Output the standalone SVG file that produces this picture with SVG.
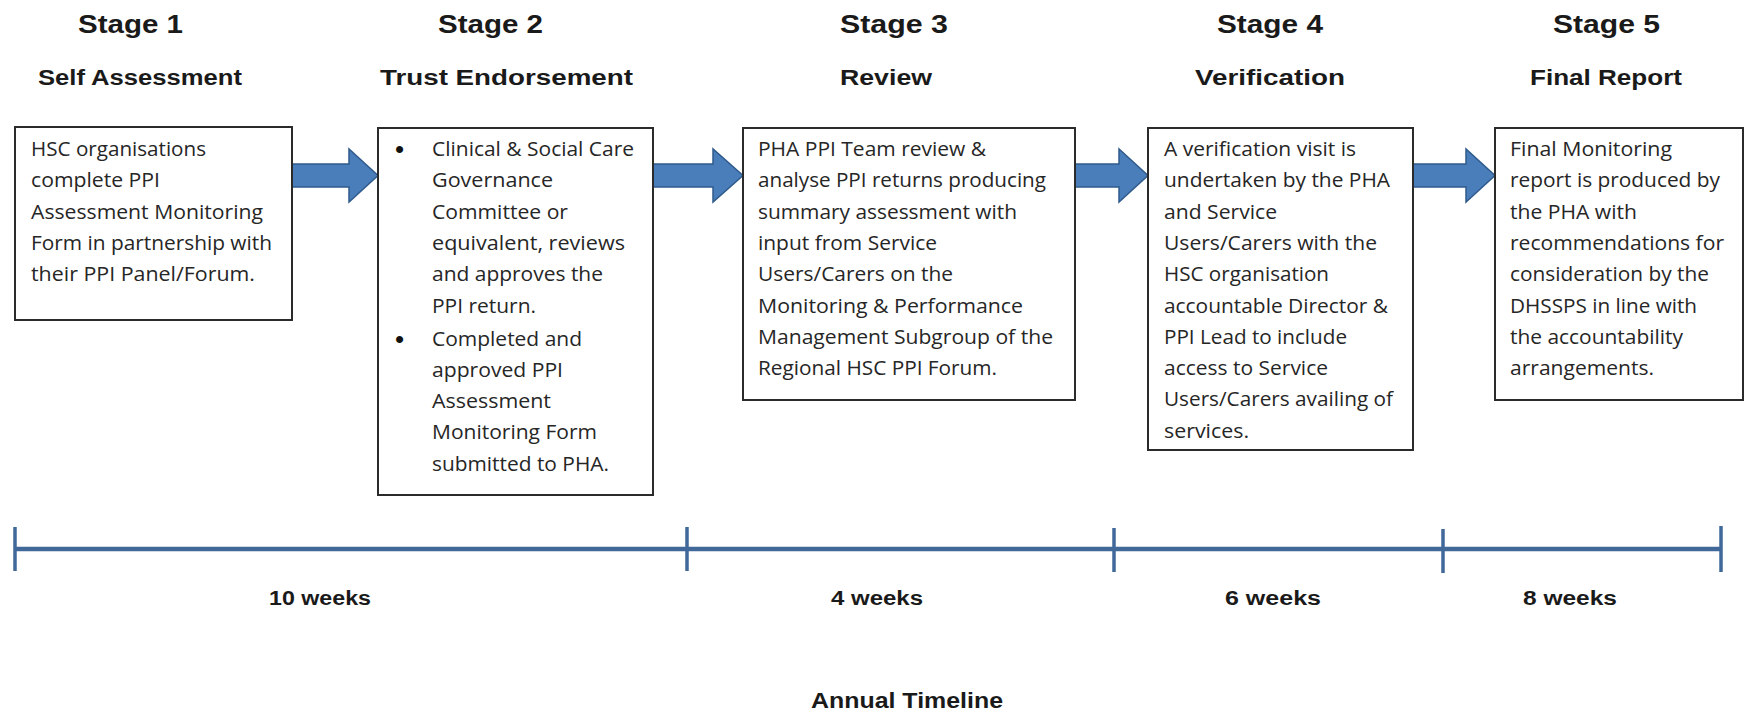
<svg xmlns="http://www.w3.org/2000/svg" width="1745" height="715" viewBox="0 0 1745 715">
<style>
.hdr{font-family:"Liberation Sans",Arial,sans-serif;font-weight:bold;font-size:26px;fill:#1a1a1a}
.sub{font-family:"Liberation Sans",Arial,sans-serif;font-weight:bold;font-size:22px;fill:#1a1a1a}
.wk{font-family:"Liberation Sans",Arial,sans-serif;font-weight:bold;font-size:20px;fill:#1a1a1a}
.body{font-family:"Open Sans","Liberation Sans",sans-serif;font-size:20px;fill:#262626}
.bul{font-family:"Liberation Sans",Arial,sans-serif;font-size:26px;fill:#111}
.box{fill:#ffffff;stroke:#2b2b2b;stroke-width:2}
.arrow{fill:#4a7ebb;stroke:#2f5b8c;stroke-width:1.5}
.tl{stroke:#40699a;fill:none}
</style>
<rect width="1745" height="715" fill="#ffffff"/>

<g id="headers">
<text class="hdr" x="78" y="33" textLength="105" lengthAdjust="spacingAndGlyphs">Stage 1</text>
<text class="sub" x="38" y="85" textLength="204" lengthAdjust="spacingAndGlyphs">Self Assessment</text>
<text class="hdr" x="438" y="33" textLength="105" lengthAdjust="spacingAndGlyphs">Stage 2</text>
<text class="sub" x="380" y="85" textLength="253" lengthAdjust="spacingAndGlyphs">Trust Endorsement</text>
<text class="hdr" x="840" y="33" textLength="108" lengthAdjust="spacingAndGlyphs">Stage 3</text>
<text class="sub" x="840" y="85" textLength="92" lengthAdjust="spacingAndGlyphs">Review</text>
<text class="hdr" x="1217" y="33" textLength="106" lengthAdjust="spacingAndGlyphs">Stage 4</text>
<text class="sub" x="1195" y="85" textLength="150" lengthAdjust="spacingAndGlyphs">Verification</text>
<text class="hdr" x="1553" y="33" textLength="107" lengthAdjust="spacingAndGlyphs">Stage 5</text>
<text class="sub" x="1530" y="85" textLength="152" lengthAdjust="spacingAndGlyphs">Final Report</text>
</g>

<g id="connectors">
<polygon class="arrow" points="292,164 349,164 349,149 378,175.5 349,202 349,187 292,187"/>
<polygon class="arrow" points="653,164 713,164 713,149 743,175.5 713,202 713,187 653,187"/>
<polygon class="arrow" points="1075,164 1119,164 1119,149 1148,175.5 1119,202 1119,187 1075,187"/>
<polygon class="arrow" points="1413,164 1466,164 1466,149 1495,175.5 1466,202 1466,187 1413,187"/>
</g>

<g id="stage1">
<rect class="box" x="15" y="127" width="277" height="193"/>
<text class="body" x="31" y="156" textLength="175" lengthAdjust="spacingAndGlyphs">HSC organisations</text>
<text class="body" x="31" y="187.3" textLength="129" lengthAdjust="spacingAndGlyphs">complete PPI</text>
<text class="body" x="31" y="218.6" textLength="232" lengthAdjust="spacingAndGlyphs">Assessment Monitoring</text>
<text class="body" x="31" y="249.9" textLength="241" lengthAdjust="spacingAndGlyphs">Form in partnership with</text>
<text class="body" x="31" y="281.2" textLength="224" lengthAdjust="spacingAndGlyphs">their PPI Panel/Forum.</text>
</g>

<g id="stage2">
<rect class="box" x="378" y="128" width="275" height="367"/>
<text class="bul" x="395" y="158">•</text>
<text class="body" x="432" y="156" textLength="202" lengthAdjust="spacingAndGlyphs">Clinical  &amp; Social Care</text>
<text class="body" x="432" y="187.3" textLength="121" lengthAdjust="spacingAndGlyphs">Governance</text>
<text class="body" x="432" y="218.6" textLength="136" lengthAdjust="spacingAndGlyphs">Committee or</text>
<text class="body" x="432" y="249.9" textLength="193" lengthAdjust="spacingAndGlyphs">equivalent, reviews</text>
<text class="body" x="432" y="281.2" textLength="171" lengthAdjust="spacingAndGlyphs">and approves the</text>
<text class="body" x="432" y="312.5" textLength="104" lengthAdjust="spacingAndGlyphs">PPI return.</text>
<text class="bul" x="395" y="347.5">•</text>
<text class="body" x="432" y="345.5" textLength="150" lengthAdjust="spacingAndGlyphs">Completed and</text>
<text class="body" x="432" y="376.8" textLength="131" lengthAdjust="spacingAndGlyphs">approved PPI</text>
<text class="body" x="432" y="408.1" textLength="119" lengthAdjust="spacingAndGlyphs">Assessment</text>
<text class="body" x="432" y="439.4" textLength="165" lengthAdjust="spacingAndGlyphs">Monitoring Form</text>
<text class="body" x="432" y="470.7" textLength="177" lengthAdjust="spacingAndGlyphs">submitted to PHA.</text>
</g>

<g id="stage3">
<rect class="box" x="743" y="128" width="332" height="272"/>
<text class="body" x="758" y="156" textLength="228" lengthAdjust="spacingAndGlyphs">PHA PPI Team review &amp;</text>
<text class="body" x="758" y="187.3" textLength="288" lengthAdjust="spacingAndGlyphs">analyse PPI returns producing</text>
<text class="body" x="758" y="218.6" textLength="259" lengthAdjust="spacingAndGlyphs">summary assessment with</text>
<text class="body" x="758" y="249.9" textLength="179" lengthAdjust="spacingAndGlyphs">input from Service</text>
<text class="body" x="758" y="281.2" textLength="195" lengthAdjust="spacingAndGlyphs">Users/Carers on the</text>
<text class="body" x="758" y="312.5" textLength="265" lengthAdjust="spacingAndGlyphs">Monitoring &amp; Performance</text>
<text class="body" x="758" y="343.8" textLength="295" lengthAdjust="spacingAndGlyphs">Management Subgroup of the</text>
<text class="body" x="758" y="375.1" textLength="239" lengthAdjust="spacingAndGlyphs">Regional HSC PPI Forum.</text>
</g>

<g id="stage4">
<rect class="box" x="1148" y="128" width="265" height="322"/>
<text class="body" x="1164" y="156" textLength="192" lengthAdjust="spacingAndGlyphs">A verification visit  is</text>
<text class="body" x="1164" y="187.3" textLength="226" lengthAdjust="spacingAndGlyphs">undertaken by the PHA</text>
<text class="body" x="1164" y="218.6" textLength="113" lengthAdjust="spacingAndGlyphs">and Service</text>
<text class="body" x="1164" y="249.9" textLength="213" lengthAdjust="spacingAndGlyphs">Users/Carers with the</text>
<text class="body" x="1164" y="281.2" textLength="165" lengthAdjust="spacingAndGlyphs">HSC organisation</text>
<text class="body" x="1164" y="312.5" textLength="224" lengthAdjust="spacingAndGlyphs">accountable Director &amp;</text>
<text class="body" x="1164" y="343.8" textLength="183" lengthAdjust="spacingAndGlyphs">PPI Lead to include</text>
<text class="body" x="1164" y="375.1" textLength="164" lengthAdjust="spacingAndGlyphs">access to Service</text>
<text class="body" x="1164" y="406.4" textLength="229" lengthAdjust="spacingAndGlyphs">Users/Carers availing of</text>
<text class="body" x="1164" y="437.7" textLength="85" lengthAdjust="spacingAndGlyphs">services.</text>
</g>

<g id="stage5">
<rect class="box" x="1495" y="128" width="248" height="272"/>
<text class="body" x="1510" y="156" textLength="162" lengthAdjust="spacingAndGlyphs">Final Monitoring</text>
<text class="body" x="1510" y="187.3" textLength="210" lengthAdjust="spacingAndGlyphs">report is produced by</text>
<text class="body" x="1510" y="218.6" textLength="127" lengthAdjust="spacingAndGlyphs">the PHA with</text>
<text class="body" x="1510" y="249.9" textLength="214" lengthAdjust="spacingAndGlyphs">recommendations for</text>
<text class="body" x="1510" y="281.2" textLength="199" lengthAdjust="spacingAndGlyphs">consideration by the</text>
<text class="body" x="1510" y="312.5" textLength="187" lengthAdjust="spacingAndGlyphs">DHSSPS in  line with</text>
<text class="body" x="1510" y="343.8" textLength="173" lengthAdjust="spacingAndGlyphs">the accountability</text>
<text class="body" x="1510" y="375.1" textLength="144" lengthAdjust="spacingAndGlyphs">arrangements.</text>
</g>

<g id="timeline">
<line class="tl" x1="15" y1="549" x2="1721" y2="549" stroke-width="4.5"/>
<line class="tl" x1="15" y1="527" x2="15" y2="571" stroke-width="3.5"/>
<line class="tl" x1="687" y1="527" x2="687" y2="571" stroke-width="3.5"/>
<line class="tl" x1="1114" y1="528" x2="1114" y2="572" stroke-width="3.5"/>
<line class="tl" x1="1443" y1="529" x2="1443" y2="573" stroke-width="3.5"/>
<line class="tl" x1="1721" y1="526" x2="1721" y2="572" stroke-width="3.5"/>
<text class="wk" x="320" y="605" text-anchor="middle" textLength="102" lengthAdjust="spacingAndGlyphs">10 weeks</text>
<text class="wk" x="877" y="605" text-anchor="middle" textLength="92" lengthAdjust="spacingAndGlyphs">4 weeks</text>
<text class="wk" x="1273" y="605" text-anchor="middle" textLength="96" lengthAdjust="spacingAndGlyphs">6 weeks</text>
<text class="wk" x="1570" y="605" text-anchor="middle" textLength="94" lengthAdjust="spacingAndGlyphs">8 weeks</text>
<text class="sub" x="907" y="708" text-anchor="middle" textLength="192" lengthAdjust="spacingAndGlyphs">Annual Timeline</text>
</g>
</svg>
